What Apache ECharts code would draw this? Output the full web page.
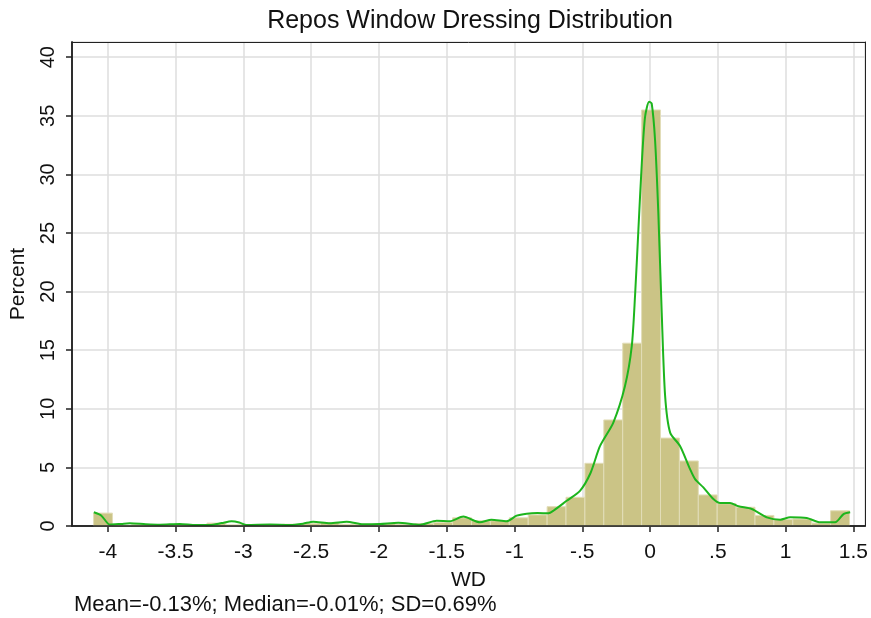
<!DOCTYPE html>
<html>
<head>
<meta charset="utf-8">
<script src="https://cdn.jsdelivr.net/npm/echarts@6/dist/echarts.min.js"></script>
<style>
	html, body {margin: 0; padding: 0; background: #fff;}
	#main {width: 871px; height: 618px;}
</style>
</head>
<body>
<div id="main"></div>
<script>
// histogram bins (WD, 40 bins)
var binStart = -4.105;
var binWidth = 0.1394;
var binPercent = [1.1, 0.05, 0.1, 0.1, 0.05, 0.05, 0.25, 0.1, 0.05, 0.05,
	0.15, 0.2, 0.3, 0.15, 0.15, 0.2, 0.15, 0.2, 0.3, 0.7,
	0.45, 0.45, 0.7, 0.95, 1.65, 2.45, 5.35, 9.05, 15.6, 35.5,
	7.5, 5.55, 2.65, 1.9, 1.6, 0.9, 0.55, 0.6, 0.25, 1.3];

// kernel density, scaled to percent
var densX = [-4.103, -4.047, -3.985, -3.9, -3.838, -3.72, -3.616, -3.469, -3.35, -3.247,
	-3.16, -3.087, -3.03, -2.976, -2.804, -2.657, -2.56, -2.485, -2.362, -2.238,
	-2.116, -1.993, -1.857, -1.697, -1.574, -1.476, -1.378, -1.255, -1.17, -1.058,
	-0.984, -0.91, -0.83, -0.75, -0.713, -0.615, -0.517, -0.44, -0.369, -0.271,
	-0.185, -0.135, -0.111, -0.086, -0.061, -0.037, -0.007, 0.012, 0.037, 0.061,
	0.086, 0.111, 0.148, 0.221, 0.295, 0.332, 0.393, 0.467, 0.517, 0.59,
	0.652, 0.75, 0.861, 0.96, 1.033, 1.156, 1.255, 1.365, 1.427, 1.476];
var densY = [1.17, 0.88, 0.12, 0.18, 0.23, 0.15, 0.11, 0.17, 0.08, 0.085,
	0.25, 0.4, 0.3, 0.085, 0.12, 0.085, 0.2, 0.37, 0.23, 0.37,
	0.14, 0.17, 0.28, 0.11, 0.45, 0.4, 0.8, 0.31, 0.54, 0.4,
	0.88, 1.05, 1.1, 1.08, 1.3, 2.15, 3.0, 4.5, 6.83, 8.83,
	11.94, 15.34, 19.6, 25.3, 30.95, 34.9, 36.2, 36.05, 32.9, 26.7,
	18.2, 11.1, 7.97, 6.83, 4.85, 4.0, 3.29, 2.3, 1.96, 1.96,
	1.68, 1.45, 0.74, 0.54, 0.74, 0.68, 0.31, 0.31, 1.02, 1.17];

var chartTitle = 'Repos Window Dressing Distribution';
var noteText = 'Mean=-0.13%; Median=-0.01%; SD=0.69%';

var myChart = echarts.init(document.getElementById('main'), null, {renderer: 'canvas'});

var barData = [];
for (var i = 0; i < binPercent.length; i++) {
	var lo = binStart + binWidth * i;
	barData.push([lo, lo + binWidth, binPercent[i]]);
}
var lineData = [];
for (var j = 0; j < densX.length; j++) {
	lineData.push([densX[j], densY[j]]);
}

function renderBar(params, api) {
	var p0 = api.coord([api.value(0), api.value(2)]);
	var p1 = api.coord([api.value(1), 0]);
	return {
		type: 'rect',
		shape: {x: p0[0], y: p0[1], width: p1[0] - p0[0], height: p1[1] - p0[1]},
		style: {fill: '#cbc486', stroke: '#e2ddb8', lineWidth: 1}
	};
}

var font = 'Liberation Sans, Arial, Helvetica, sans-serif';
var xMin = -4.264, xMax = 1.586;
var yMin = 0, yMax = 41.3;

// line-only axes drawn above the bars, they make the frame
function frameAxis(pos, min, max, w) {
	return {
		type: 'value', position: pos, min: min, max: max,
		axisLine: {show: true, onZero: false, lineStyle: {color: '#222', width: w}},
		axisTick: {show: false}, axisLabel: {show: false}, splitLine: {show: false}, z: 5
	};
}

var option = {
	animation: false,
	backgroundColor: '#fff',
	title: [
		{text: chartTitle, left: 470, top: 9, padding: 0, textAlign: 'center',
			textStyle: {fontFamily: font, fontSize: 25, fontWeight: 'normal', color: '#111'}},
		{text: noteText, left: 74, top: 594, padding: 0,
			textStyle: {fontFamily: font, fontSize: 22, fontWeight: 'normal', color: '#111'}}
	],
	grid: {left: 71, right: 5, top: 42, bottom: 92},
	xAxis: [
		{
			type: 'value',
			min: xMin,
			max: xMax,
			splitNumber: 11,
			name: 'WD',
			nameLocation: 'middle',
			nameGap: 44,
			nameTextStyle: {fontFamily: font, fontSize: 21, color: '#111'},
			axisLine: {show: true, onZero: false, lineStyle: {color: '#222', width: 1.5}},
			axisTick: {show: true, length: 6, lineStyle: {color: '#222', width: 1.5}},
			axisLabel: {
				fontFamily: font, fontSize: 21, color: '#111', margin: 16,
				showMinLabel: false, showMaxLabel: false,
				formatter: function (v) {
					var s = String(Math.round(v * 10) / 10);
					return s.replace(/^(-?)0\./, '$1.');
				}
			},
			splitLine: {show: true, lineStyle: {color: '#dedede', width: 1.5}},
			z: 0
		},
		frameAxis('top', xMin, xMax, 1),
		frameAxis('bottom', xMin, xMax, 1.5)
	],
	yAxis: [
		{
			type: 'value',
			min: yMin,
			max: yMax,
			splitNumber: 8,
			name: 'Percent',
			nameLocation: 'middle',
			nameGap: 43,
			nameTextStyle: {fontFamily: font, fontSize: 21, color: '#111'},
			axisLine: {show: true, onZero: false, lineStyle: {color: '#222', width: 1.5}},
			axisTick: {show: true, length: 6, lineStyle: {color: '#222', width: 1.5}},
			axisLabel: {fontFamily: font, fontSize: 20, color: '#111', rotate: 90, margin: 14, showMaxLabel: false},
			splitLine: {show: true, lineStyle: {color: '#dedede', width: 1.5}},
			z: 0
		},
		frameAxis('right', yMin, yMax, 1),
		frameAxis('left', yMin, yMax, 1.5)
	],
	series: [
		{
			type: 'custom',
			renderItem: renderBar,
			encode: {x: [0, 1], y: 2},
			data: barData,
			z: 2
		},
		{
			type: 'line',
			data: lineData,
			smooth: 0.25,
			showSymbol: false,
			lineStyle: {color: '#1db51d', width: 2},
			z: 4
		}
	]
};
myChart.setOption(option, true);
</script>
</body>
</html>
